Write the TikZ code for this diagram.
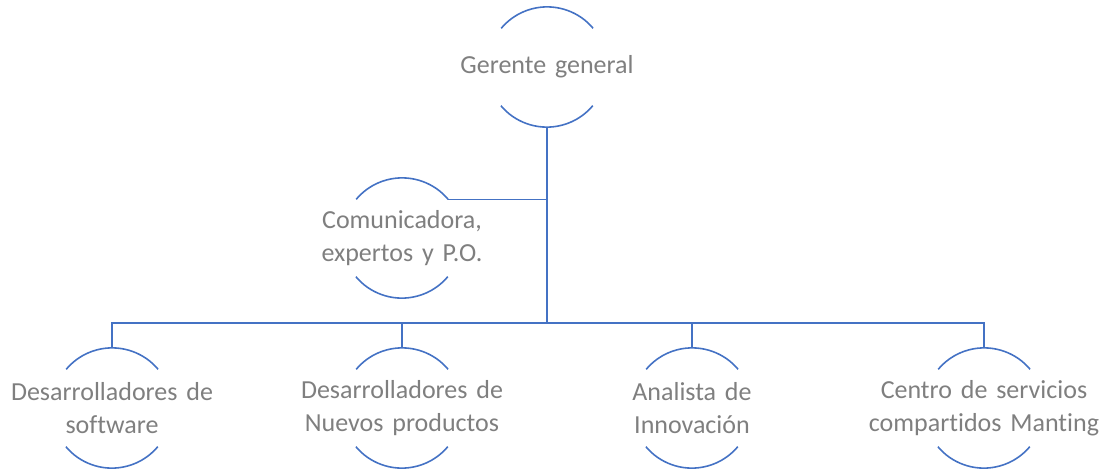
\documentclass[tikz,border=0pt]{standalone}
\usepackage{fontspec}
\setmainfont{Carlito}[Ligatures=NoCommon, WordSpace=1.5]
\usetikzlibrary{calc}

\definecolor{lineblue}{HTML}{4472C4}
\definecolor{textgray}{HTML}{7F7F7F}

\tikzset{
  member/.style={circle, inner sep=0pt, minimum size=120pt},
  roletext/.style={text=textgray, align=center, font=\fontsize{26}{33}\selectfont},
  orgline/.style={draw=lineblue, line width=1.6pt},
}

\begin{document}
\begin{tikzpicture}[x=1pt, y=-1pt]
    \useasboundingbox (0,0) rectangle (1106,469);

    \node[member, label={[roletext]center:Gerente general}] (gg) at (547,67) {};
    \node[member, label={[roletext]center:Comunicadora,\\expertos y P.O.}] (com) at (402,238) {};
    \node[member, label={[roletext]center:Desarrolladores de\\software}] (dev) at (112,408) {};
    \node[member, label={[roletext]center:Desarrolladores de\\Nuevos productos}] (np) at (402,408) {};
    \node[member, label={[roletext]center:Analista de\\Innovación}] (an) at (692,408) {};
    \node[member, label={[roletext]center:Centro de servicios\\compartidos Manting}] (cs) at (984,408) {};

    % open circles: top and bottom arcs only
    \foreach \n in {gg, com, dev, np, an, cs} {
      \draw[orgline] (\n.40) arc[start angle=40, end angle=140, radius=60pt];
      \draw[orgline] (\n.220) arc[start angle=220, end angle=320, radius=60pt];
    }

    \coordinate (bus) at (547,323);

    \draw[orgline] (gg.south) -- (bus);
    \draw[orgline] (com.40) -- (com.40 -| gg.south);
    \draw[orgline] (bus) -| (dev.north);
    \draw[orgline] (bus) -| (np.north);
    \draw[orgline] (bus) -| (an.north);
    \draw[orgline] (bus) -| (cs.north);
  \end{tikzpicture}
\end{document}
